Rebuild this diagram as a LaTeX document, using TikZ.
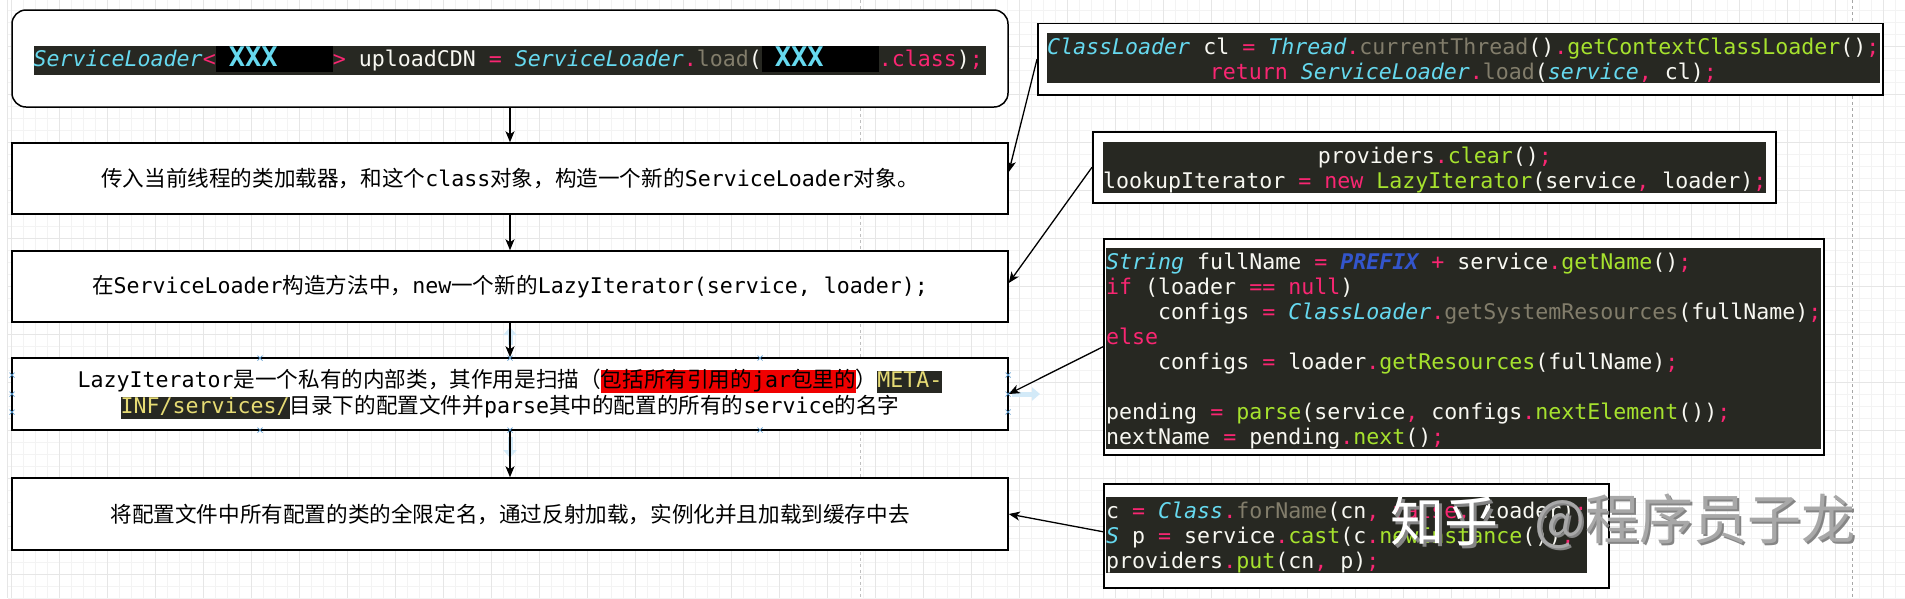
\documentclass[tikz,border=0pt]{standalone}
\usepackage{fontspec}
\setmainfont{DejaVu Sans Mono}
\newfontfamily\cjk{Noto Sans CJK SC}
\newcommand\zh[1]{{\cjk #1}}
\usetikzlibrary{arrows.meta}
\definecolor{mkbg}{HTML}{272822}
\definecolor{mkwhite}{HTML}{F8F8F2}
\definecolor{mkpink}{HTML}{F92672}
\definecolor{mkcyan}{HTML}{66D9EF}
\definecolor{mkgreen}{HTML}{A6E22E}
\definecolor{mkgray}{HTML}{827D6B}
\definecolor{mkblue}{HTML}{3355CC}
\definecolor{mkyellow}{HTML}{E6DB74}
\definecolor{hlred}{HTML}{F00000}
\definecolor{gridmin}{HTML}{F3F3F3}
\definecolor{gridmaj}{HTML}{E6E6E6}
\definecolor{ghostblue}{HTML}{D3EAF8}
\definecolor{markblue}{HTML}{5A9BD0}
\definecolor{wmgray}{HTML}{A8A8A8}
\definecolor{wmshadow}{HTML}{858585}
\newcommand\kP[1]{\textcolor{mkpink}{#1}}
\newcommand\kC[1]{\textcolor{mkcyan}{\itshape #1}}
\newcommand\kG[1]{\textcolor{mkgreen}{#1}}
\newcommand\kD[1]{\textcolor{mkgray}{#1}}
\newcommand\kB[1]{\textcolor{mkblue}{\bfseries\itshape #1}}
\newcommand\kL{\rule[-4pt]{0pt}{25pt}}
\newcommand\redact{\makebox[117pt][l]{\rlap{\textcolor{black}{\rule[-6pt]{117pt}{26pt}}}\hspace{13pt}\textcolor{mkcyan}{\fontsize{27}{27}\selectfont\bfseries XXX}}}
\newcommand\flowfont{\fontsize{21.6}{26}\selectfont\frenchspacing\lineskiplimit=-100pt\relax}
\newcommand\codefont{\fontsize{21.6}{25}\selectfont\frenchspacing\lineskiplimit=-100pt\relax}
\newcommand\hlS{\rule[-5pt]{0pt}{22pt}}
\newcommand\hlRed[1]{{\setlength\fboxsep{0pt}\colorbox{hlred}{\hlS #1}}}
\newcommand\hlDark[1]{{\setlength\fboxsep{0pt}\colorbox{mkbg}{\hlS\textcolor{mkyellow}{#1}}}}
\begin{document}
\begin{tikzpicture}[x=1pt,y=-1pt,
  flow/.style={draw=black, line width=1.5pt, fill=white, minimum width=996pt, minimum height=71pt, inner sep=0pt, align=center, text=black, font=\flowfont},
  codebox/.style={draw=black, line width=1.5pt, fill=white, inner sep=0pt, anchor=north west},
  bar/.style={fill=mkbg, inner sep=0pt, anchor=north west, text=mkwhite, font=\codefont},
  conn/.style={draw=black, line width=1.3pt, -{Stealth[length=11pt,width=9pt,inset=3pt]}},
  ghost/.style={draw=ghostblue, line width=5pt, -{Triangle[length=8pt,width=13pt]}},
  xmark/.style={draw=markblue, line width=0.7pt},
  wm/.style={anchor=west, inner sep=0pt, font=\cjk\fontsize{54}{54}\selectfont}]
\useasboundingbox (0,0) rectangle (1905,598);
\fill[white] (0,0) rectangle (1905,598);
% grid
\foreach \i in {0,...,157} \draw[gridmin, line width=0.8pt] ({11+12*\i},0) -- ({11+12*\i},598);
\foreach \j in {0,...,49} \draw[gridmin, line width=0.8pt] (8,{10.5+12*\j}) -- (1905,{10.5+12*\j});
\foreach \i in {0,...,39} \draw[gridmaj, line width=0.8pt] ({11+48*\i},0) -- ({11+48*\i},598);
\foreach \j in {0,...,11} \draw[gridmaj, line width=0.8pt] (8,{46.5+48*\j}) -- (1905,{46.5+48*\j});
\draw[gridmaj, line width=1pt] (7,0) -- (7,598);
\draw[black!25, line width=0.8pt, dash pattern=on 3pt off 3pt] (860,0) -- (860,598);
\draw[black!35, line width=0.8pt, dash pattern=on 3pt off 3pt] (1852,0) -- (1852,598);

% left flow
\node[flow, rounded corners=14pt, minimum height=97pt] (top) at (510,58.5) {};
\node[bar, align=left] (topcode) at (33.5,46) {\rule[-9pt]{0pt}{29pt}\kC{ServiceLoader}\kP{<}\redact\kP{>} uploadCDN \kP{=} \kC{ServiceLoader}\kP{.}\kD{load}(\redact\kP{.class})\kP{;}\hspace{3pt}};

\node[flow] (b2) at (510,178.5) {\zh{传入当前线程的类加载器，和这个}class\zh{对象，构造一个新的}ServiceLoader\zh{对象。}};
\node[flow] (b3) at (510,286.5) {\zh{在}ServiceLoader\zh{构造方法中，}new\zh{一个新的}LazyIterator(service, loader);};
\node[flow, minimum height=72pt] (b4) at (510,394) {LazyIterator\zh{是一个私有的内部类，其作用是扫描（}\hlRed{\zh{包括所有引用的}jar\zh{包里的}}\zh{）}\hlDark{META-}\\\hlDark{INF/services/}\zh{目录下的配置文件并}parse\zh{其中的配置的所有的}service\zh{的名字}};
\node[flow, minimum height=72pt] (b5) at (510,514) {\zh{将配置文件中所有配置的类的全限定名，通过反射加载，实例化并且加载到缓存中去}};

% right code boxes
\node[codebox, minimum width=845pt, minimum height=71.6pt] (r1) at (1037,22.7) {};
\node[bar, align=center] (r1code) at (1047,33) {\kL\kC{ClassLoader} cl \kP{=} \kC{Thread}\kP{.}\kD{currentThread}()\kP{.}\kG{getContextClassLoader}()\kP{;}\\
\kL\kP{return} \kC{ServiceLoader}\kP{.}\kD{load}(\kC{service}\kP{,} cl)\kP{;}};

\node[codebox, minimum width=683pt, minimum height=71pt] (r2) at (1092,131) {};
\node[bar, align=center] (r2code) at (1103,142) {\kL providers\kP{.}\kG{clear}()\kP{;}\\
\kL lookupIterator \kP{=} \kP{new} \kG{LazyIterator}(service\kP{,} loader)\kP{;}};

\node[codebox, minimum width=720pt, minimum height=216pt] (r3) at (1103,238) {};
\node[bar, align=left] (r3code) at (1106,248) {\kL\kC{String} fullName \kP{=} \kB{PREFIX} \kP{+} service\kP{.}\kG{getName}()\kP{;}\\
\kL\kP{if} (loader \kP{==} \kP{null})\\
\kL\phantom{0000}configs \kP{=} \kC{ClassLoader}\kP{.}\kD{getSystemResources}(fullName)\kP{;}\\
\kL\kP{else}\\
\kL\phantom{0000}configs \kP{=} loader\kP{.}\kG{getResources}(fullName)\kP{;}\\
\kL\\
\kL pending \kP{=} \kG{parse}(service\kP{,} configs\kP{.}\kG{nextElement}())\kP{;}\\
\kL nextName \kP{=} pending\kP{.}\kG{next}()\kP{;}};

\node[codebox, minimum width=505pt, minimum height=104pt] (r4) at (1103,483) {};
\node[bar, align=left] (r4code) at (1106,497) {\kL c \kP{=} \kC{Class}\kP{.}\kD{forName}(cn\kP{,} \kP{false}\kP{,} loader)\kP{;}\\
\kL\kC{S} p \kP{=} service\kP{.}\kG{cast}(c\kP{.}\kG{newInstance}())\kP{;}\\
\kL providers\kP{.}\kG{put}(cn\kP{,} p)\kP{;}};

% watermark
\node[wm, text=wmshadow] (wm1s) at (1393,524) {知乎};
\node[wm, text=white] (wm1) at (1390,521) {知乎};
\node[wm, text=wmshadow] (wm2s) at (1536,523) {@程序员子龙};
\node[wm, text=wmgray] (wm2) at (1534,521) {@程序员子龙};

% ghost hover arrows
\draw[ghost] (510,345) -- (510,327);
\draw[ghost] (510,437) -- (510,458);
\draw[ghost] (1012,394) -- (1040,394);

% connectors
\draw[conn] (top.south) -- (b2.north);
\draw[conn] (b2.south) -- (b3.north);
\draw[conn] (b3.south) -- (b4.north);
\draw[conn] (b4.south) -- (b5.north);
\draw[conn] (r1.west) -- ([yshift=6.5pt]b2.east);
\draw[conn] (r2.west) -- ([yshift=3.5pt]b3.east);
\draw[conn] (r3.west) -- (b4.east);
\draw[conn] ([yshift=4pt]r4.west) -- (b5.east);

% connection point marks
\foreach \p in {(260,358),(510,358),(760,358),(260,430),(510,430),(760,430),(12,375),(12,394),(12,412),(1008,375),(1008,394),(1008,412)}
  \draw[xmark] \p ++(-2.5,-2.5) -- ++(5,5) ++(0,-5) -- ++(-5,5);
\end{tikzpicture}
\end{document}
